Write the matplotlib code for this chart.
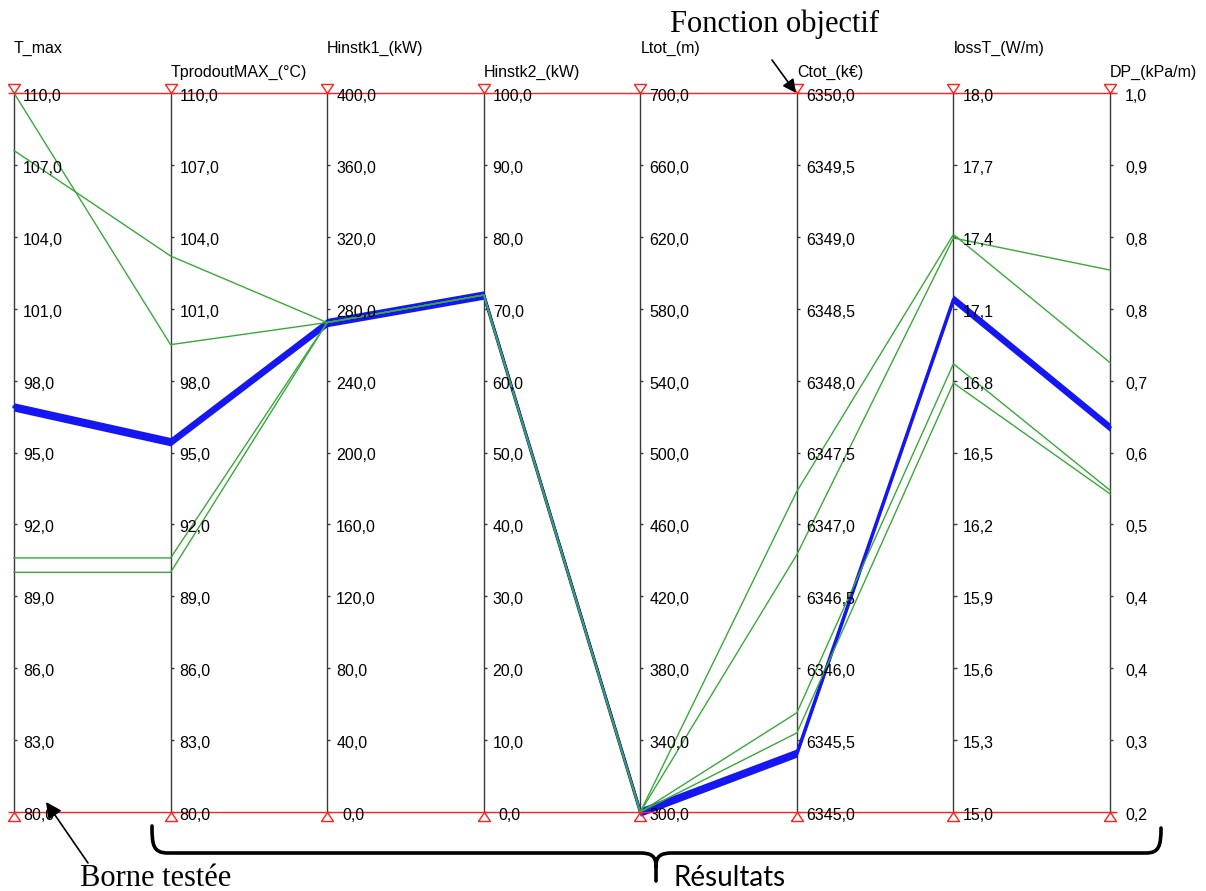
import numpy as np
import matplotlib
matplotlib.use('Agg')
import matplotlib.pyplot as plt
from matplotlib.path import Path
from matplotlib.patches import PathPatch, FancyArrowPatch
from matplotlib.transforms import Affine2D, ScaledTranslation

plt.rcParams['font.family'] = ['Liberation Sans', 'DejaVu Sans']

W, H = 1206, 891

# axes of the parallel-coordinates plot
axis_names = ['T_max', 'TprodoutMAX_(°C)', 'Hinstk1_(kW)', 'Hinstk2_(kW)',
              'Ltot_(m)', 'Ctot_(k€)', 'lossT_(W/m)', 'DP_(kPa/m)']
axis_min = [80.0, 80.0, 0.0, 0.0, 300.0, 6345.0, 15.0, 0.2]
axis_max = [110.0, 110.0, 400.0, 100.0, 700.0, 6350.0, 18.0, 1.0]

# tested solutions, one value per axis
green_runs = [
    [110.0, 99.5, 272.3, 71.9, 300.0, 6347.23, 17.41, 0.700],
    [107.6, 103.2, 272.3, 71.9, 300.0, 6346.79, 17.395, 0.803],
    [90.6, 90.6, 272.3, 71.9, 300.0, 6345.69, 16.87, 0.558],
    [90.0, 90.0, 272.3, 71.9, 300.0, 6345.55, 16.79, 0.554],
]
best_run = [96.9, 95.45, 272.3, 71.9, 300.0, 6345.41, 17.14, 0.628]

lo = np.array(axis_min)
hi = np.array(axis_max)
xs = np.arange(len(axis_names))


def norm(run):
    return (np.array(run) - lo) / (hi - lo)


fig = plt.figure(figsize=(W / 100, H / 100), dpi=100)
ax = fig.add_axes([14 / W, 79 / H, (1110 - 14) / W, (812 - 93) / H])
ax.set_xlim(0, 7)
ax.set_ylim(0, 1)
ax.axis('off')


def shift(dx, dy):
    # offset in pixels from data coordinates
    return ax.transData + ScaledTranslation(dx / 100, dy / 100, fig.dpi_scale_trans)


# vertical axes, ticks and labels
ax.vlines(xs, 0, 1, color='#3a3a3a', lw=1, zorder=2, clip_on=False)
pos = np.linspace(0, 1, 11)
for i in xs:
    ax.hlines(pos, i, i + 0.02, color='#3a3a3a', lw=1, zorder=2, clip_on=False)
    for p, t in zip(pos, np.linspace(lo[i], hi[i], 11)):
        s = f"{t:.1f}".replace('.', ',')
        dx = 9 if len(s.split(',')[0]) >= 2 else 15
        ax.text(i, p, s, fontsize=11.5, va='baseline', ha='left',
                transform=shift(dx, -8), zorder=6)
    ax.text(i, 1, axis_names[i], fontsize=11.5, va='baseline', ha='left',
            transform=shift(0, 40 if i % 2 == 0 else 16))

# bounds: red lines and triangles
ax.hlines([0, 1], -0.04, 7.045, color='#ff2020', lw=1, zorder=5, clip_on=False)
down_tri = Path([(-0.667, 1), (0.667, 1), (0, 0), (-0.667, 1)])
up_tri = Path([(-0.667, -1), (0.667, -1), (0, 0), (-0.667, -1)])
ax.plot(xs, np.ones(8), ls='none', marker=down_tri, ms=13, mfc='none',
        mec='#ff2020', mew=1, clip_on=False, zorder=5)
ax.plot(xs, np.zeros(8), ls='none', marker=up_tri, ms=13, mfc='none',
        mec='#ff2020', mew=1, clip_on=False, zorder=5)

# best solution: thick blue band
yb = norm(best_run)
half = 4.2 / 719
ax.fill_between(xs, yb - half, yb + half, color='#1616f2', lw=0, zorder=3,
                clip_on=False)
ax.plot(xs, yb, color='#1616f2', lw=2.2, zorder=3, clip_on=False)

# other solutions
for run in green_runs:
    ax.plot(xs, norm(run), color='#3aa83a', lw=1.0, zorder=4, clip_on=False)

# annotations in pixel coordinates (origin top-left)
pix = Affine2D().scale(1, -1).translate(0, H)

fig.text(774, 32, 'Fonction objectif', transform=pix, ha='center',
         va='baseline', fontsize=22, family=['Liberation Serif'])
fig.add_artist(FancyArrowPatch((772, 60), (796, 93), transform=pix,
                               arrowstyle='-|>', mutation_scale=20, lw=1.2,
                               color='black', shrinkA=0, shrinkB=0))

fig.text(80, 886, 'Borne testée', transform=pix, ha='left', va='baseline',
         fontsize=22, family=['Liberation Serif'])
fig.add_artist(FancyArrowPatch((88, 863), (46, 802), transform=pix,
                               arrowstyle='-|>', mutation_scale=24, lw=1.2,
                               color='black', shrinkA=0, shrinkB=0))

fig.text(673, 886, 'Résultats', transform=pix, ha='left', va='baseline',
         fontsize=20, family=['Lato', 'DejaVu Sans'])

brace = Path(
    [(152, 826), (152, 845), (153, 853), (168, 853),
     (640, 853),
     (651, 853), (656, 856), (656, 866),
     (656, 881),
     (656, 866), (656, 856), (661, 853), (672, 853),
     (1146, 853),
     (1159, 853), (1161, 846), (1161, 828)],
    [Path.MOVETO, Path.CURVE4, Path.CURVE4, Path.CURVE4,
     Path.LINETO,
     Path.CURVE4, Path.CURVE4, Path.CURVE4,
     Path.LINETO,
     Path.MOVETO, Path.CURVE4, Path.CURVE4, Path.CURVE4,
     Path.LINETO,
     Path.CURVE4, Path.CURVE4, Path.CURVE4])
fig.add_artist(PathPatch(brace, transform=pix, fill=False, lw=2.6,
                         ec='black', capstyle='round', joinstyle='round'))

fig.savefig('out.png', dpi=100)
